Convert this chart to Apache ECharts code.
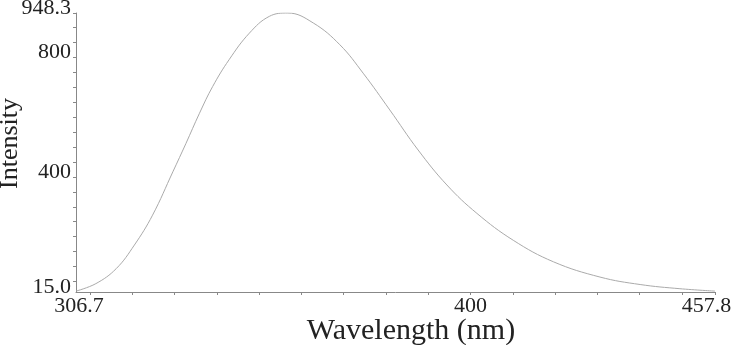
<!DOCTYPE html>
<html>
<head>
<meta charset="utf-8">
<script src="https://cdn.jsdelivr.net/npm/echarts@6/dist/echarts.min.js"></script>
<style>html,body{margin:0;padding:0;background:#fff}#c{width:732px;height:345px}</style>
</head>
<body>
<div id="c"></div>
<script>
var wavelength = [306.7, 311.4, 316.2, 320.5, 324.8, 329.6, 332.7, 335.9, 339.0, 342.9, 347.7, 352.4, 356.8, 362.8, 369.1, 374.6, 380.9, 387.6, 394.4, 401.5, 410.1, 419.6, 430.6, 440.1, 449.5, 457.8];
var intensity = [18, 43, 93, 172, 272, 417, 512, 613, 702, 792, 881, 937, 948.3, 915, 842, 747, 624, 490, 373, 278, 188, 116, 65, 40, 26, 18];

var xLabelValues = [306.7, 400, 457.8];
var xLabelTexts = ['306.7', '400', '457.8'];
var xTickValues = [310, 320, 330, 340, 350, 360, 370, 380, 390, 400, 410, 420, 430, 440, 450, 457.8];
var yLabelValues = [15, 400, 800, 948.3];
var yLabelTexts = ['15.0', '400', '800', '948.3'];
var yTickValues = [50, 100, 150, 200, 250, 300, 350, 400, 450, 500, 550, 600, 650, 700, 750, 800, 850, 900, 948.3];

var FONT = 'Liberation Serif';
var points = wavelength.map(function (w, i) { return [w, intensity[i]]; });

var chart = echarts.init(document.getElementById('c'));
chart.setOption({
  animation: false,
  grid: { left: 76, right: 17, top: 13, bottom: 53, containLabel: false, outerBoundsMode: 'none' },
  xAxis: {
    type: 'value', min: 306.7, max: 457.8,
    name: 'Wavelength (nm)', nameLocation: 'middle', nameGap: 24, nameMoveOverlap: false,
    nameTextStyle: { fontFamily: FONT, fontSize: 30, color: '#222', padding: [0, 0, 0, 31] },
    axisLine: { show: true, lineStyle: { color: '#888', width: 1 } },
    axisTick: { show: true, length: 3, lineStyle: { color: '#888' }, customValues: xTickValues },
    splitLine: { show: false },
    axisLabel: {
      customValues: xLabelValues, margin: 3,
      fontFamily: FONT, fontSize: 22, color: '#222',
      formatter: function (v) {
        var i = xLabelValues.indexOf(v);
        var t = i >= 0 ? xLabelTexts[i] : '';
        if (v === xLabelValues[0]) return '{lo|' + t + '}';
        if (v === xLabelValues[xLabelValues.length - 1]) return '{hi|' + t + '}';
        return t;
      },
      rich: {
        lo: { fontFamily: FONT, fontSize: 22, color: '#222', padding: [0, 0, 0, 6] },
        hi: { fontFamily: FONT, fontSize: 22, color: '#222', padding: [0, 17, 0, 0] }
      }
    }
  },
  yAxis: {
    type: 'value', min: 15, max: 948.3,
    name: 'Intensity', nameLocation: 'middle', nameGap: 53, nameMoveOverlap: false,
    nameTextStyle: { fontFamily: FONT, fontSize: 26, color: '#222', padding: [0, 0, 0, 18] },
    axisLine: { show: true, lineStyle: { color: '#888', width: 1 } },
    axisTick: { show: true, length: 3, lineStyle: { color: '#888' }, customValues: yTickValues },
    splitLine: { show: false },
    axisLabel: {
      customValues: yLabelValues, margin: 5,
      fontFamily: FONT, fontSize: 22, color: '#222',
      formatter: function (v) {
        var i = yLabelValues.indexOf(v);
        return i >= 0 ? '{a|' + yLabelTexts[i] + '}' : '';
      },
      rich: {
        a: { fontFamily: FONT, fontSize: 22, color: '#222', padding: [0, 0, 10, 0] }
      }
    }
  },
  series: [{
    type: 'line', data: points, smooth: 0.4,
    showSymbol: false, symbol: 'none',
    lineStyle: { color: '#aaa', width: 1 }
  }]
});
</script>
</body>
</html>
